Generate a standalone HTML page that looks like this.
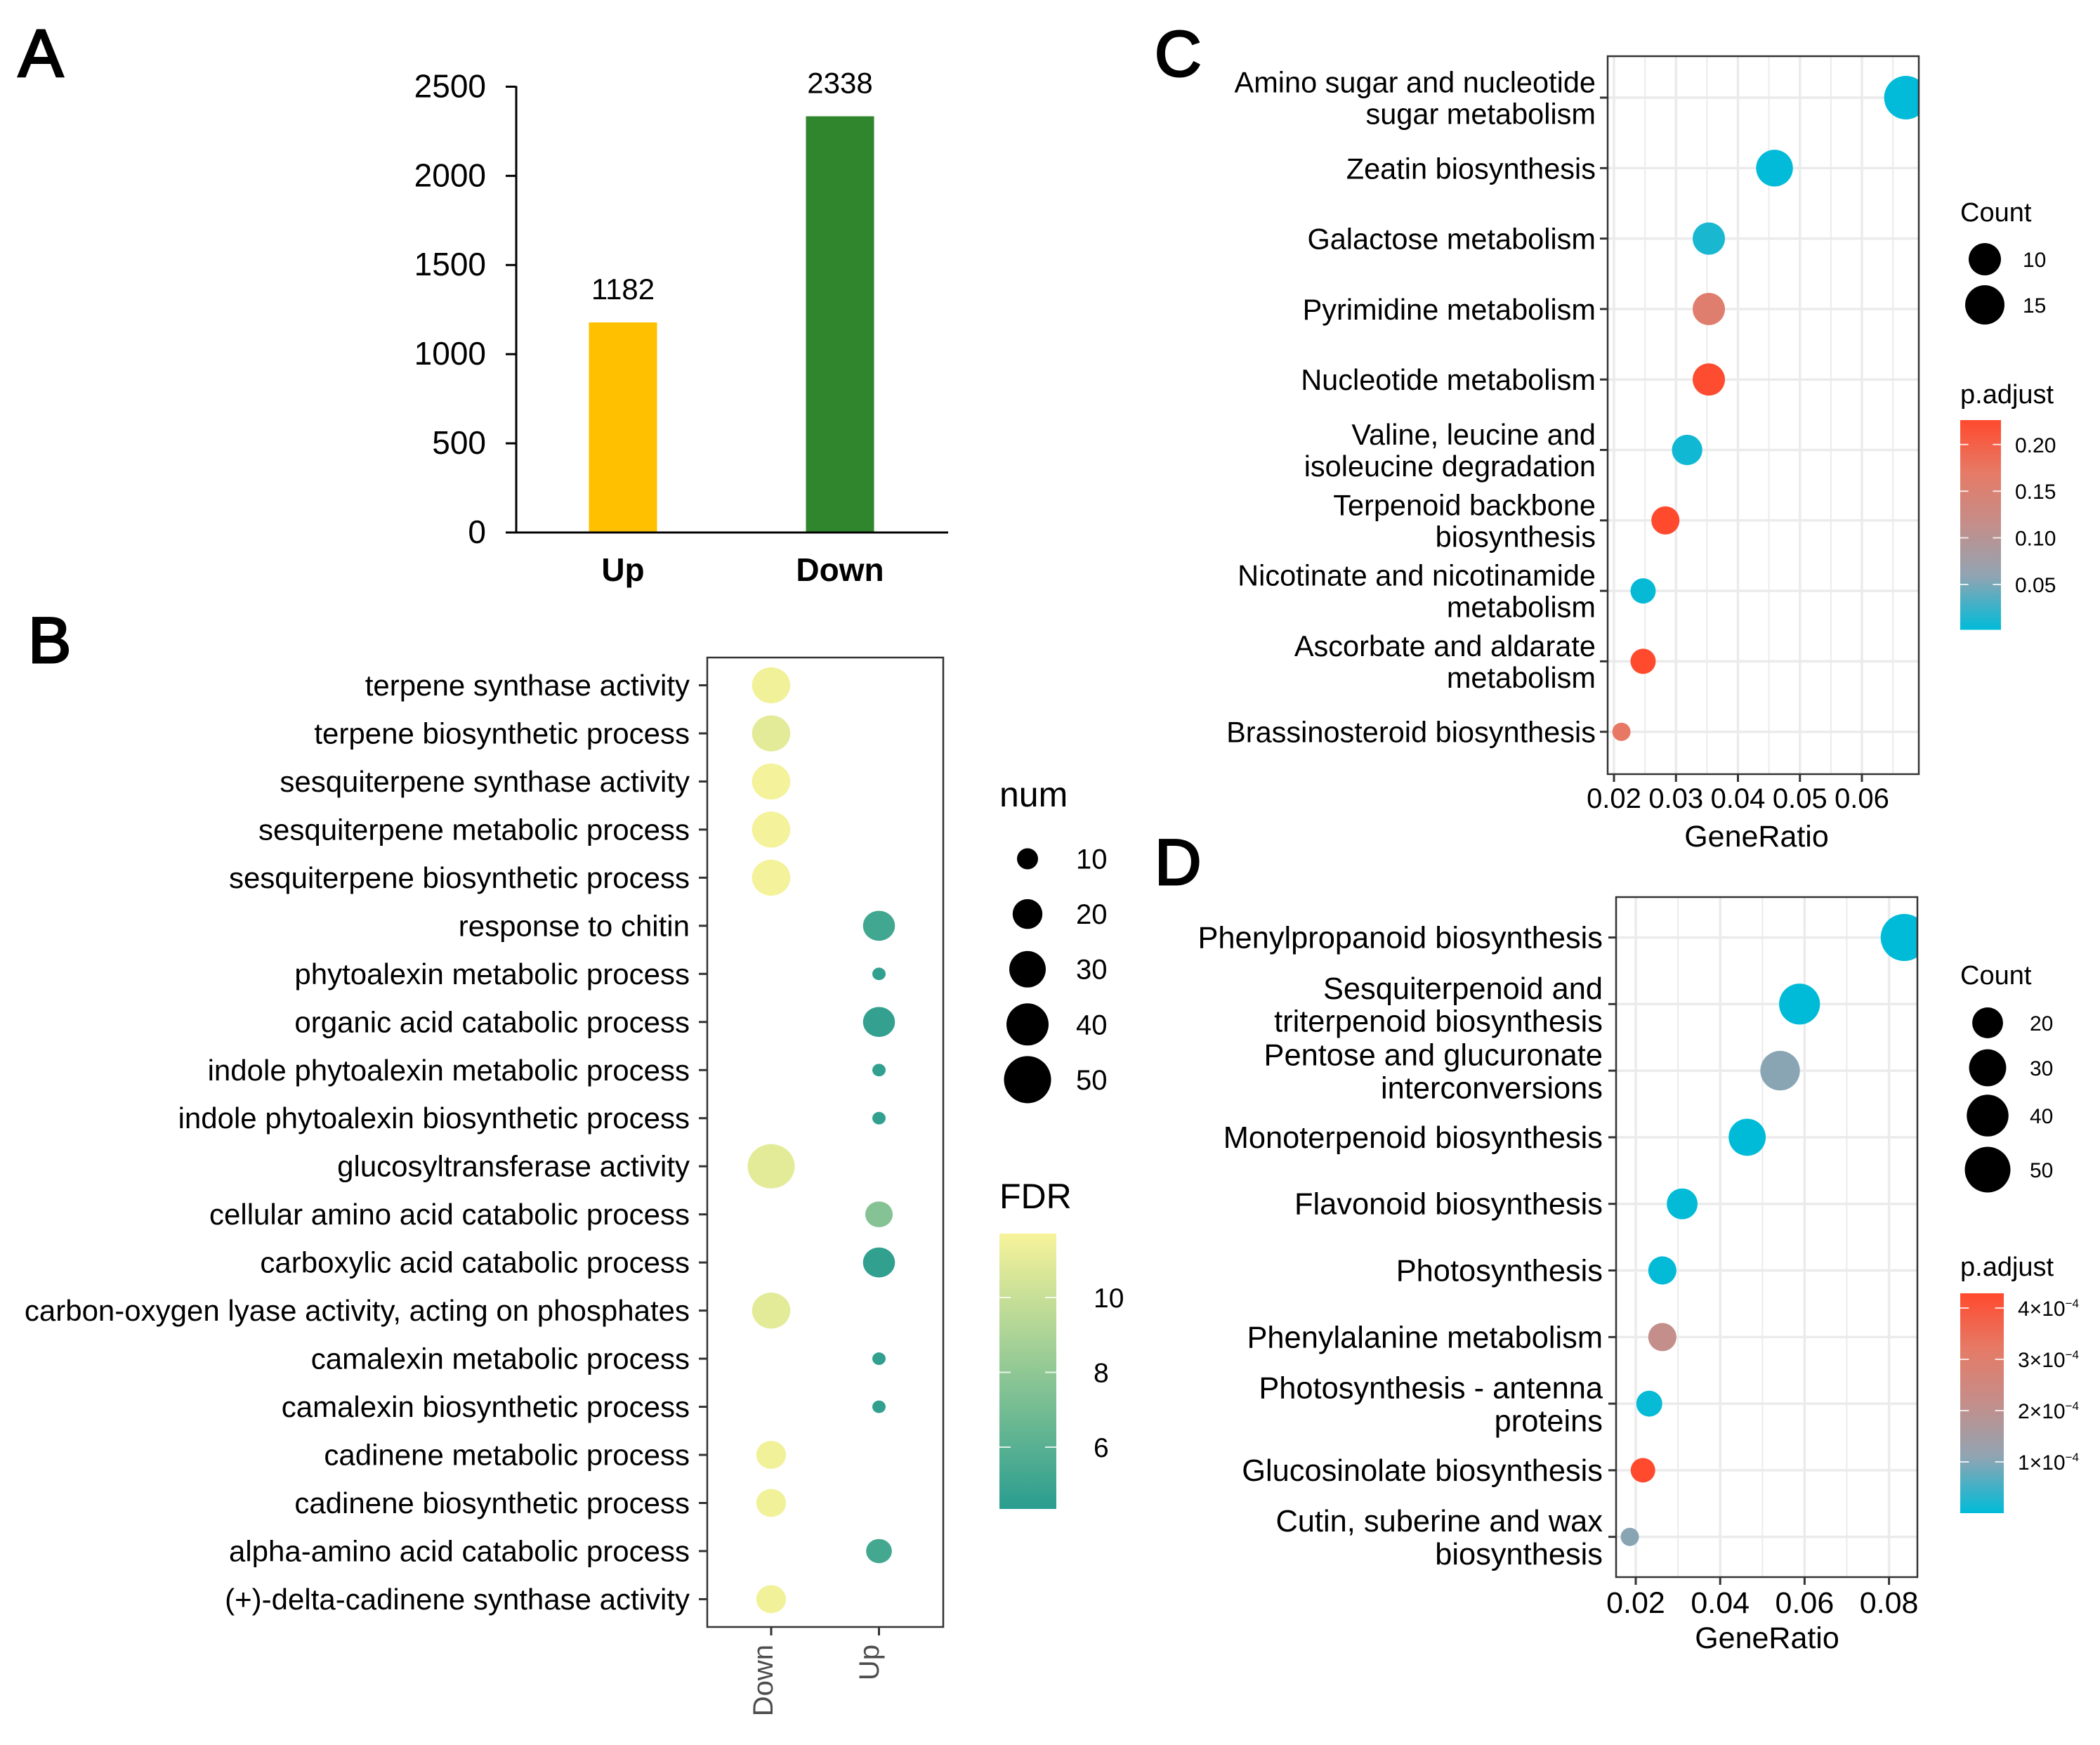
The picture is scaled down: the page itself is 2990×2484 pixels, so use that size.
<!DOCTYPE html>
<html lang="en">
<head>
<meta charset="utf-8">
<title>Differential expression and enrichment figure</title>
<style>
html,body{margin:0;padding:0;background:#fff;}
svg{display:block;}
text{font-family:"Liberation Sans",Arial,sans-serif;fill:#000;}
</style>
</head>
<body>
<svg id="chart" xmlns="http://www.w3.org/2000/svg" width="2990" height="2484" viewBox="0 0 2990 2484">
  <defs>
    <clipPath id="clip-c"><rect x="2289" y="80" width="443" height="1022"/></clipPath>
    <clipPath id="clip-d"><rect x="2301" y="1277" width="429" height="968"/></clipPath>
    <linearGradient id="padjust-gradient" x1="0" y1="1" x2="0" y2="0">
      <stop offset="0" stop-color="#00BBD8"/>
      <stop offset="0.26" stop-color="#92A4B2"/>
      <stop offset="0.5" stop-color="#C48E8A"/>
      <stop offset="0.75" stop-color="#E67A66"/>
      <stop offset="1" stop-color="#FF4A2E"/>
    </linearGradient>
    <linearGradient id="fdr-gradient" x1="0" y1="1" x2="0" y2="0">
      <stop offset="0" stop-color="#2A9D8F"/>
      <stop offset="1" stop-color="#F7F39A"/>
    </linearGradient>
  </defs>
  <rect x="0" y="0" width="2990" height="2484" fill="#fff"/>
  <text x="26" y="109" font-size="96" stroke="#000" stroke-width="3">A</text>
  <text x="40" y="943" font-size="92" stroke="#000" stroke-width="3">B</text>
  <text x="1644" y="108" font-size="92" stroke="#000" stroke-width="3">C</text>
  <text x="1644" y="1259" font-size="92" stroke="#000" stroke-width="3">D</text>
  <g id="panel-a"></g>
  <g id="panel-b"></g>
  <g id="panel-c"></g>
  <g id="panel-d"></g>
</svg>
<script>
/* ---------- Panel A data ---------- */
const barCategories = ['Up', 'Down'];
const barValues = [1182, 2338];
const barColors = ['#FFC000', '#2F862C'];
const barTicks = [0, 500, 1000, 1500, 2000, 2500];

/* ---------- Panel B data ---------- */
const bTerms = ['terpene synthase activity', 'terpene biosynthetic process', 'sesquiterpene synthase activity', 'sesquiterpene metabolic process', 'sesquiterpene biosynthetic process', 'response to chitin', 'phytoalexin metabolic process', 'organic acid catabolic process', 'indole phytoalexin metabolic process', 'indole phytoalexin biosynthetic process', 'glucosyltransferase activity', 'cellular amino acid catabolic process', 'carboxylic acid catabolic process', 'carbon-oxygen lyase activity, acting on phosphates', 'camalexin metabolic process', 'camalexin biosynthetic process', 'cadinene metabolic process', 'cadinene biosynthetic process', 'alpha-amino acid catabolic process', '(+)-delta-cadinene synthase activity'];
const bGroups = ['Down', 'Up'];
const bPointGroup = ['Down', 'Down', 'Down', 'Down', 'Down', 'Up', 'Up', 'Up', 'Up', 'Up', 'Down', 'Up', 'Up', 'Down', 'Up', 'Up', 'Down', 'Down', 'Up', 'Down'];
const bNum = [33, 33, 33, 33, 33, 23, 4, 23, 4, 4, 50, 17, 23, 33, 4, 4, 20, 20, 15, 20];
const bFdr = [11.5, 11, 11.6, 11.6, 11.6, 5.2, 4.6, 4.7, 4.6, 4.6, 11, 7.6, 4.6, 11, 4.6, 4.6, 11.5, 11.5, 5.3, 11.5];
const bNumLegend = [10, 20, 30, 40, 50];
const bFdrTicks = [10, 8, 6];

/* ---------- Panel C data ---------- */
const cTerms = ['Amino sugar and nucleotide\nsugar metabolism', 'Zeatin biosynthesis', 'Galactose metabolism', 'Pyrimidine metabolism', 'Nucleotide metabolism', 'Valine, leucine and\nisoleucine degradation', 'Terpenoid backbone\nbiosynthesis', 'Nicotinate and nicotinamide\nmetabolism', 'Ascorbate and aldarate\nmetabolism', 'Brassinosteroid biosynthesis'];
const cRatio = [0.0671, 0.0459, 0.0353, 0.0353, 0.0353, 0.0318, 0.0283, 0.0247, 0.0247, 0.0212];
const cCount = [19, 13, 10, 10, 10, 9, 8, 7, 7, 6];
const cPadjust = [0.002, 0.002, 0.012, 0.158, 0.224, 0.008, 0.226, 0.004, 0.226, 0.172];
const cRatioTicks = [0.02, 0.03, 0.04, 0.05, 0.06];
const cRatioMinor = [0.025, 0.035, 0.045, 0.055, 0.065];
const cCountLegend = [10, 15];
const cPadjustTicks = [0.05, 0.10, 0.15, 0.20];

/* ---------- Panel D data ---------- */
const dTerms = ['Phenylpropanoid biosynthesis', 'Sesquiterpenoid and\ntriterpenoid biosynthesis', 'Pentose and glucuronate\ninterconversions', 'Monoterpenoid biosynthesis', 'Flavonoid biosynthesis', 'Photosynthesis', 'Phenylalanine metabolism', 'Photosynthesis - antenna\nproteins', 'Glucosinolate biosynthesis', 'Cutin, suberine and wax\nbiosynthesis'];
const dRatio = [0.0836, 0.0588, 0.0542, 0.0464, 0.031, 0.0263, 0.0263, 0.0232, 0.0217, 0.0186];
const dCount = [54, 38, 35, 30, 20, 17, 17, 15, 14, 12];
const dPadjust = [0.00001, 0.00001, 1.05, 0.00001, 0.02, 0.02, 2.15, 0.05, 4.29, 1.05];
const dRatioTicks = [0.02, 0.04, 0.06, 0.08];
const dRatioMinor = [0.03, 0.05, 0.07];
const dCountLegend = [20, 30, 40, 50];
const dPadjustTicks = [1, 2, 3, 4];

const NS = 'http://www.w3.org/2000/svg';
function mk(tag, attrs, parent, txt) {
  const el = document.createElementNS(NS, tag);
  for (const k in attrs) el.setAttribute(k, attrs[k]);
  if (txt !== undefined) el.textContent = txt;
  parent.appendChild(el);
  return el;
}
function hex(c) { return [1, 3, 5].map(i => parseInt(c.substr(i, 2), 16)); }
function ramp(stops, t) {
  t = Math.max(0, Math.min(1, t));
  for (let i = 1; i < stops.length; i++) {
    if (t <= stops[i][0]) {
      const a = stops[i - 1], b = stops[i], u = (t - a[0]) / (b[0] - a[0]);
      const ca = hex(a[1]), cb = hex(b[1]);
      return 'rgb(' + ca.map((v, j) => Math.round(v + (cb[j] - v) * u)).join(',') + ')';
    }
  }
  return stops[stops.length - 1][1];
}
const padjRamp = [[0, '#00BBD8'], [0.26, '#92A4B2'], [0.5, '#C48E8A'], [0.75, '#E67A66'], [1, '#FF4A2E']];
const fdrRamp = [[0, '#2A9D8F'], [1, '#F7F39A']];

/* ---------- Panel A ---------- */
(function () {
  const g = document.getElementById('panel-a');
  const yA = v => 758 - v * 0.25384;
  const xA = i => 887 + i * 309;
  barCategories.forEach((c, i) => {
    const top = yA(barValues[i]) + 1;
    const r = mk('rect', { x: xA(i) - 48.5, y: top, width: 97, height: yA(0) - top, fill: barColors[i] }, g);
    
    
    const v = mk('text', { x: xA(i), y: yA(barValues[i]) - 32, 'font-size': 42, 'text-anchor': 'middle' }, g, String(barValues[i]));
    
    
    const l = mk('text', { x: xA(i), y: 827, 'font-size': 46, 'font-weight': 'bold', 'text-anchor': 'middle' }, g, c);
    
    
  });
  barTicks.forEach(t => {
    const k = mk('line', { x1: 720, x2: 734, y1: yA(t), y2: yA(t), stroke: '#000', 'stroke-width': 3 }, g);
    
    
    const l = mk('text', { x: 692, y: yA(t) + 15, 'font-size': 46, 'text-anchor': 'end' }, g, String(t));
    
    
  });
  const ay = mk('line', { x1: 735, x2: 735, y1: yA(2500) - 1, y2: yA(0) + 1, stroke: '#000', 'stroke-width': 3 }, g);
  
  
  const ax = mk('line', { x1: 720, x2: 1350, y1: yA(0), y2: yA(0), stroke: '#000', 'stroke-width': 3 }, g);
  
  
})();

/* ---------- Panel B ---------- */
(function () {
  const g = document.getElementById('panel-b');
  const rowY = i => 975.5 + i * 68.47;
  const groupX = name => 1098 + bGroups.indexOf(name) * 153.5;
  const dia = n => Math.sqrt(900 + 90 * (n - 10));
  const fdrY = f => 1847 + (10 - f) * 53.25;
  const fdrT = f => (f - 4.35) / (11.7 - 4.35);
  bTerms.forEach((term, i) => {
    const k = mk('line', { x1: 995, x2: 1007, y1: rowY(i), y2: rowY(i), stroke: '#333', 'stroke-width': 3 }, g);
    
    
    const l = mk('text', { x: 982, y: rowY(i) + 14.5, 'font-size': 42, 'text-anchor': 'end' }, g, term);
    
    
    const d = dia(bNum[i]);
    const c = mk('ellipse', { cx: groupX(bPointGroup[i]), cy: rowY(i), rx: d / 2, ry: d * 0.47, fill: ramp(fdrRamp, fdrT(bFdr[i])) }, g);
    
    
  });
  const frame = mk('rect', { x: 1007, y: 936, width: 336, height: 1380, fill: 'none', stroke: '#333', 'stroke-width': 2.5 }, g);
  
  
  bGroups.forEach(name => {
    const k = mk('line', { x1: groupX(name), x2: groupX(name), y1: 2316, y2: 2328, stroke: '#333', 'stroke-width': 3 }, g);
    
    
    const bx = name === 'Down' ? 1100 : 1251;
    const l = mk('text', { x: bx, y: 2341, 'font-size': 40, fill: '#4d4d4d', 'text-anchor': 'end', transform: 'rotate(-90 ' + bx + ' 2341)' }, g, name);
    l.style.fill = '#4d4d4d';
    
    
  });
  const t1 = mk('text', { x: 1423, y: 1148, 'font-size': 50 }, g, 'num');
  
  
  bNumLegend.forEach((n, i) => {
    const y = 1222.5 + i * 78.6;
    const c = mk('circle', { cx: 1463, cy: y, r: dia(n) / 2, fill: '#000' }, g);
    
    
    const l = mk('text', { x: 1532, y: y + 14, 'font-size': 40 }, g, String(n));
    
    
  });
  const t2 = mk('text', { x: 1423, y: 1720, 'font-size': 50 }, g, 'FDR');
  
  
  const bar = mk('rect', { x: 1423, y: 1756, width: 81, height: 392, fill: 'url(#fdr-gradient)' }, g);
  
  
  bFdrTicks.forEach(f => {
    const y = fdrY(f);
    const a = mk('line', { x1: 1423, x2: 1439, y1: y, y2: y, stroke: '#fff', 'stroke-width': 2, 'stroke-opacity': 0.8 }, g);
    
    
    const b = mk('line', { x1: 1488, x2: 1504, y1: y, y2: y, stroke: '#fff', 'stroke-width': 2, 'stroke-opacity': 0.8 }, g);
    
    
    const l = mk('text', { x: 1557, y: y + 14, 'font-size': 39 }, g, String(f));
    
    
  });
})();

/* ---------- Panels C and D ---------- */
function drawDotPanel(cfg) {
  const g = document.getElementById(cfg.id);
  const fr = cfg.frame;
  const X = cfg.xScale, Y = cfg.yScale;
  cfg.minor.forEach(v => {
    const m = mk('line', { x1: X(v), x2: X(v), y1: fr.y, y2: fr.y + fr.h, stroke: '#ebebeb', 'stroke-width': 2 }, g);
    
    
  });
  cfg.ticks.forEach(v => {
    const m = mk('line', { x1: X(v), x2: X(v), y1: fr.y, y2: fr.y + fr.h, stroke: '#ebebeb', 'stroke-width': 3.5 }, g);
    
    
    const k = mk('line', { x1: X(v), x2: X(v), y1: fr.y + fr.h, y2: fr.y + fr.h + 11, stroke: '#333', 'stroke-width': 3 }, g);
    
    
    const l = mk('text', { x: X(v), y: cfg.tickBaseline, 'font-size': cfg.tickSize, 'text-anchor': 'middle' }, g, v.toFixed(2));
    
    
  });
  cfg.terms.forEach((term, i) => {
    const m = mk('line', { x1: fr.x, x2: fr.x + fr.w, y1: Y(i), y2: Y(i), stroke: '#ebebeb', 'stroke-width': 3.5 }, g);
    
    
    const k = mk('line', { x1: fr.x - 11, x2: fr.x, y1: Y(i), y2: Y(i), stroke: '#333', 'stroke-width': 3 }, g);
    
    
    const lines = term.split('\n');
    const top = lines.length === 2 ? Y(i) - 7.5 : Y(i) + 15;
    lines.forEach((s, j) => {
      const l = mk('text', { x: cfg.labelRight, y: top + j * cfg.lineStep, 'font-size': cfg.labelSize, 'text-anchor': 'end' }, g, s);
      
      
    });
  });
  const pts = mk('g', { 'clip-path': 'url(#' + cfg.clip + ')' }, g);
  
  
  cfg.terms.forEach((term, i) => {
    const c = mk('circle', { cx: X(cfg.ratio[i]), cy: Y(i), r: cfg.dia(cfg.count[i]) / 2, fill: ramp(padjRamp, cfg.padjT(cfg.padjust[i])) }, pts);
    
    
  });
  const frame = mk('rect', { x: fr.x, y: fr.y, width: fr.w, height: fr.h, fill: 'none', stroke: '#333', 'stroke-width': 2.5 }, g);
  
  
  const xt = mk('text', { x: cfg.xTitleX, y: cfg.xTitleY, 'font-size': 43, 'text-anchor': 'middle' }, g, 'GeneRatio');
  
  
  const ct = mk('text', { x: 2791, y: cfg.countTitleY, 'font-size': 38 }, g, 'Count');
  
  
  cfg.countLegend.forEach((n, i) => {
    const c = mk('circle', { cx: cfg.legendX, cy: cfg.legendY[i], r: cfg.dia(n) / 2, fill: '#000' }, g);
    
    
    const l = mk('text', { x: cfg.legendLabelX, y: cfg.legendY[i] + 11, 'font-size': 30 }, g, String(n));
    
    
  });
  const pt = mk('text', { x: 2791, y: cfg.padjTitleY, 'font-size': 38 }, g, 'p.adjust');
  
  
  const cb = cfg.bar;
  const bar = mk('rect', { x: cb.x, y: cb.y, width: cb.w, height: cb.h, fill: 'url(#padjust-gradient)' }, g);
  
  
  cfg.padjTicks.forEach(v => {
    const y = cfg.padjY(v);
    const a = mk('line', { x1: cb.x, x2: cb.x + cb.w / 5, y1: y, y2: y, stroke: '#fff', 'stroke-width': 2, 'stroke-opacity': 0.8 }, g);
    
    
    const b = mk('line', { x1: cb.x + cb.w * 0.8, x2: cb.x + cb.w, y1: y, y2: y, stroke: '#fff', 'stroke-width': 2, 'stroke-opacity': 0.8 }, g);
    
    
    const l = mk('text', { x: cfg.padjLabelX, y: y + 11, 'font-size': 30 }, g);
    
    
    cfg.padjLabel(l, v);
  });
}

drawDotPanel({
  id: 'panel-c', clip: 'clip-c',
  frame: { x: 2289, y: 80, w: 443, h: 1022 },
  xScale: v => 2298 + (v - 0.02) * 8825,
  yScale: i => 139 + i * 100.3,
  terms: cTerms, ratio: cRatio, count: cCount, padjust: cPadjust,
  ticks: cRatioTicks, minor: cRatioMinor,
  dia: n => 26 + 36 * Math.sqrt((n - 6) / 13),
  padjT: p => (p - 0.0014) / (0.2263 - 0.0014),
  padjY: p => 832 - (p - 0.05) * 1328,
  padjTicks: cPadjustTicks,
  padjLabel: (el, v) => { el.textContent = v.toFixed(2); },
  padjLabelX: 2869,
  labelRight: 2272, labelSize: 41.5, lineStep: 45,
  tickBaseline: 1150, tickSize: 40,
  xTitleX: 2501, xTitleY: 1205,
  countTitleY: 315, padjTitleY: 574,
  countLegend: cCountLegend, legendX: 2826, legendY: [369, 434], legendLabelX: 2880,
  bar: { x: 2791, y: 598, w: 58, h: 298.5 }
});

drawDotPanel({
  id: 'panel-d', clip: 'clip-d',
  frame: { x: 2301, y: 1277, w: 429, h: 968 },
  xScale: v => 2329 + (v - 0.02) * 6010,
  yScale: i => 1334.5 + i * 94.8,
  terms: dTerms, ratio: dRatio, count: dCount, padjust: dPadjust,
  ticks: dRatioTicks, minor: dRatioMinor,
  dia: n => 26 + 41 * Math.sqrt((n - 12) / 42),
  padjT: p => p / 4.29,
  padjY: p => 2081 - (p - 1) * 73,
  padjTicks: dPadjustTicks,
  padjLabel: (el, v) => {
    el.textContent = v + '\u00D710';
    const sup = document.createElementNS(NS, 'tspan');
    sup.setAttribute('dy', '-12');
    sup.setAttribute('font-size', '17');
    sup.textContent = '\u22124';
    el.appendChild(sup);
  },
  padjLabelX: 2873,
  labelRight: 2282, labelSize: 43.4, lineStep: 46.7,
  tickBaseline: 2296, tickSize: 43,
  xTitleX: 2516, xTitleY: 2346,
  countTitleY: 1401, padjTitleY: 1816,
  countLegend: dCountLegend, legendX: 2830, legendY: [1456, 1520, 1588, 1665], legendLabelX: 2890,
  bar: { x: 2791, y: 1841, w: 62, h: 313 }
});
</script>
</body>
</html>
